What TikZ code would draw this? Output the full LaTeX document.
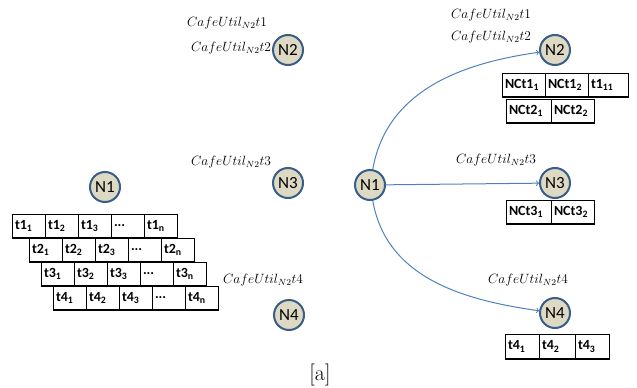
\documentclass[tikz,border=0pt]{standalone}
\usepackage{fontspec}
\setsansfont{Carlito}
\usepackage{tikz}
\usetikzlibrary{positioning}
\definecolor{nd_fill}{RGB}{221, 217, 195}
\definecolor{nd_line}{RGB}{56, 93, 138}
\definecolor{link_blue}{RGB}{79, 129, 189}
\tikzstyle{nd}=[circle,fill=nd_fill,draw=nd_line,line width=2pt,
  minimum size=30pt,inner sep=0pt,font=\sffamily\fontsize{17}{17}\selectfont]
\tikzstyle{cell}=[draw,line width=0.8pt,outer sep=0pt,minimum height=24pt,
  inner xsep=3pt,inner ysep=0pt,align=left,anchor=north west,
  font=\sffamily\bfseries\fontsize{14}{14}\selectfont]
\tikzstyle{lcell}=[cell,text width=27pt]
\tikzstyle{cafe}=[font=\fontsize{12}{12}\selectfont,scale=1.12,transform shape]
\tikzstyle{link}=[->,draw=link_blue,line width=1pt]
\tikzstyle{shadow}=[line width=2pt]

\begin{document}
\begin{tikzpicture}[x=1pt,y=-1pt]
    \useasboundingbox (0,0) rectangle (637,388);
    % left picture
    \node [style=nd] (a1) at (105,187) {N1};
    \node [style=nd] (a2) at (288,50) {N2};
    \node [style=nd] (a3) at (288,183) {N3};
    \node [style=nd] (a4) at (289,315) {N4};
    \node [style=cafe] (ca1) at (227,23) {$CafeUtil_{N2}t1$};
    \node [style=cafe] (ca2) at (231,48) {$CafeUtil_{N2}t2$};
    \node [style=cafe] (ca3) at (231,162) {$CafeUtil_{N2}t3$};
    \node [style=cafe] (ca4) at (263,280) {$CafeUtil_{N2}t4$};
    \node [style=lcell] (p1) at (12,214) {t1\textsubscript{1}};
    \node [style=lcell,right=0pt of p1] (p2) {t1\textsubscript{2}};
    \node [style=lcell,right=0pt of p2] (p3) {t1\textsubscript{3}};
    \node [style=lcell,right=0pt of p3] (p4) {...};
    \node [style=lcell,right=0pt of p4] (p5) {t1\textsubscript{n}};
    \node [style=lcell] (q1) at (29,238) {t2\textsubscript{1}};
    \node [style=lcell,right=0pt of q1] (q2) {t2\textsubscript{2}};
    \node [style=lcell,right=0pt of q2] (q3) {t2\textsubscript{3}};
    \node [style=lcell,right=0pt of q3] (q4) {...};
    \node [style=lcell,right=0pt of q4] (q5) {t2\textsubscript{n}};
    \node [style=lcell] (r1) at (41,262) {t3\textsubscript{1}};
    \node [style=lcell,right=0pt of r1] (r2) {t3\textsubscript{2}};
    \node [style=lcell,right=0pt of r2] (r3) {t3\textsubscript{3}};
    \node [style=lcell,right=0pt of r3] (r4) {...};
    \node [style=lcell,right=0pt of r4] (r5) {t3\textsubscript{n}};
    \node [style=lcell] (s1) at (53,286) {t4\textsubscript{1}};
    \node [style=lcell,right=0pt of s1] (s2) {t4\textsubscript{2}};
    \node [style=lcell,right=0pt of s2] (s3) {t4\textsubscript{3}};
    \node [style=lcell,right=0pt of s3] (s4) {...};
    \node [style=lcell,right=0pt of s4] (s5) {t4\textsubscript{n}};
    \draw [style=shadow] (p1.south west) to (p5.south east);
    \draw [style=shadow] (q1.south west) to (q5.south east);
    \draw [style=shadow] (r1.south west) to (r5.south east);
    \draw [style=shadow] (s1.south west) to (s5.south east);
    % right picture
    \node [style=nd] (b1) at (370,185) {N1};
    \node [style=nd] (b2) at (555,50) {N2};
    \node [style=nd] (b3) at (555,183) {N3};
    \node [style=nd] (b4) at (555,313) {N4};
    \node [style=cafe] (cb1) at (491,15) {$CafeUtil_{N2}t1$};
    \node [style=cafe] (cb2) at (491,37) {$CafeUtil_{N2}t2$};
    \node [style=cafe] (cb3) at (496,160) {$CafeUtil_{N2}t3$};
    \node [style=cafe] (cb4) at (528,280) {$CafeUtil_{N2}t4$};
    \node [style=cell,text width=37pt] (u1) at (502,73) {NCt1\textsubscript{1}};
    \node [style=cell,text width=37pt,right=0pt of u1] (u2) {NCt1\textsubscript{2}};
    \node [style=cell,text width=34pt,right=0pt of u2] (u3) {t1\textsubscript{11}};
    \node [style=cell,text width=39pt] (v1) at (506,99) {NCt2\textsubscript{1}};
    \node [style=cell,text width=37pt,right=0pt of v1] (v2) {NCt2\textsubscript{2}};
    \node [style=cell,text width=39pt] (w1) at (506,200) {NCt3\textsubscript{1}};
    \node [style=cell,text width=37pt,right=0pt of w1] (w2) {NCt3\textsubscript{2}};
    \node [style=cell,text width=28pt,minimum height=25pt] (x1) at (505,334) {t4\textsubscript{1}};
    \node [style=cell,text width=30pt,minimum height=25pt,right=0pt of x1] (x2) {t4\textsubscript{2}};
    \node [style=cell,text width=28pt,minimum height=25pt,right=0pt of x2] (x3) {t4\textsubscript{3}};
    \draw [style=shadow] (u1.south west) to (u3.south east);
    \draw [style=shadow] (v1.south west) to (v2.south east);
    \draw [style=shadow] (w1.south west) to (w2.south east);
    \draw [style=shadow] (x1.south west) to (x3.south east);
    \draw [style=link] (b1) to [out=80,in=188] (b2);
    \draw [style=link] (b1) to (b3);
    \draw [style=link] (b1) to [out=-80,in=172] (b4);
    \node [font=\fontsize{22}{22}\selectfont] (cap) at (320,375) {[a]};
  \end{tikzpicture}
\end{document}
